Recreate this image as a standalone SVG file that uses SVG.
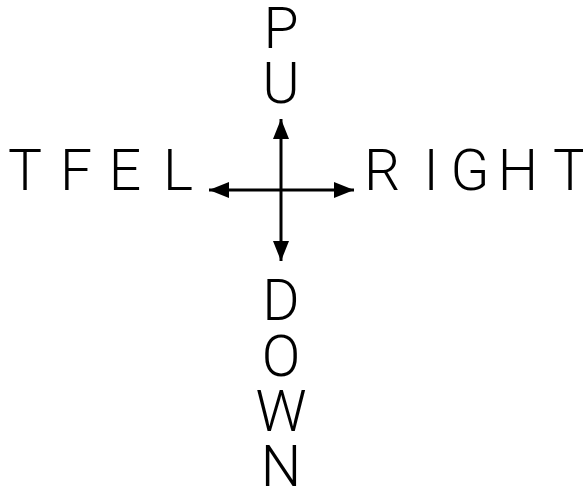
<svg xmlns="http://www.w3.org/2000/svg" width="583" height="490" viewBox="0 0 583 490">
<style>
.lbl{font-family:Roboto,"DejaVu Sans","Liberation Sans",sans-serif;font-weight:300;font-size:57px;fill:#000;text-anchor:middle}
.cn{stroke:#000;stroke-width:3;fill:none}
</style>
<defs>
<marker id="ah" viewBox="0 0 20 16" refX="20" refY="8" markerWidth="20" markerHeight="16" orient="auto" markerUnits="userSpaceOnUse">
<path d="M0,0 L20,8 L0,16 z" fill="#000"/>
</marker>
</defs>
<rect width="583" height="490" fill="#fff"/>
<g id="connectors">
<line class="cn" x1="281" y1="190" x2="281" y2="119" marker-end="url(#ah)"/>
<line class="cn" x1="281" y1="190" x2="281" y2="261" marker-end="url(#ah)"/>
<line class="cn" x1="281" y1="190" x2="209" y2="190" marker-end="url(#ah)"/>
<line class="cn" x1="281" y1="190" x2="354" y2="190" marker-end="url(#ah)"/>
</g>
<g id="up">
<text class="lbl" x="281" y="48">P</text>
<text class="lbl" x="281" y="103">U</text>
</g>
<g id="left">
<text class="lbl" x="25 76 125 178" y="190">TFEL</text>
</g>
<g id="right">
<text class="lbl" x="382 431 470 518 570" y="190">RIGHT</text>
</g>
<g id="down">
<text class="lbl" x="281" y="320">D</text>
<text class="lbl" x="281" y="376">O</text>
<text class="lbl" x="281" y="431">W</text>
<text class="lbl" x="281" y="486">N</text>
</g>
</svg>
